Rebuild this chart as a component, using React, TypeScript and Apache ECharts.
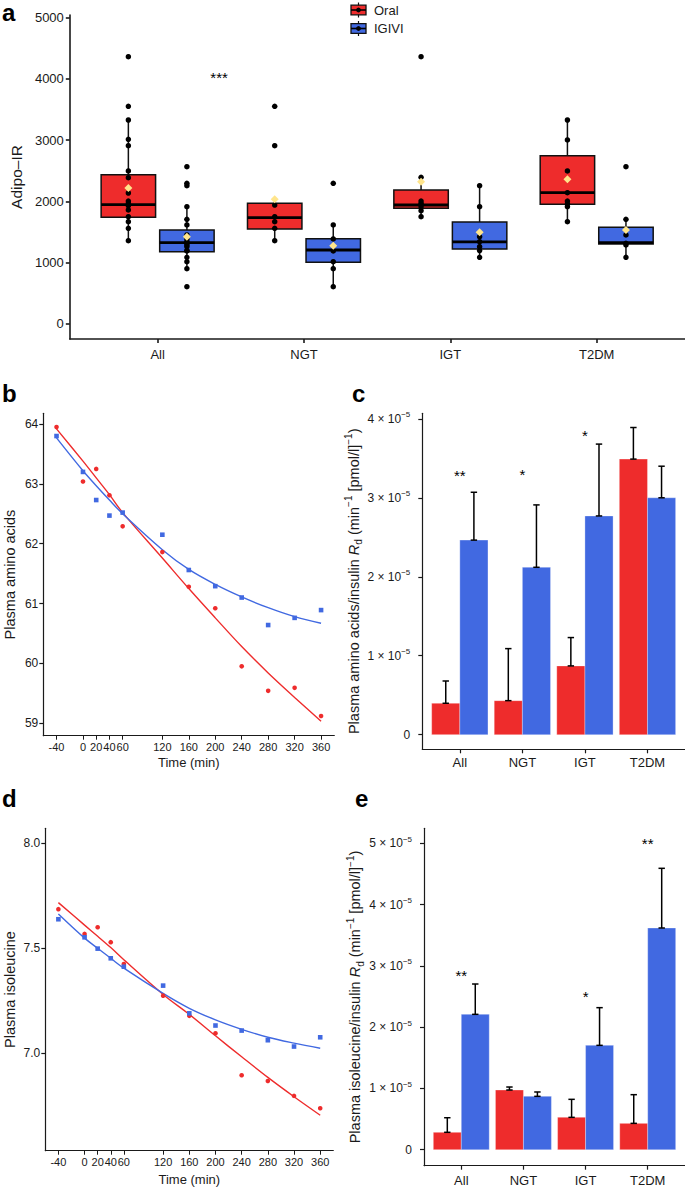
import React, { useEffect, useRef } from 'react';
import * as echarts from 'echarts';

// ---------- Data ----------
const groups = ['All', 'NGT', 'IGT', 'T2DM'];
const legendNames = ['Oral', 'IGIVI'];

// Panel a: Adipo-IR box stats [lower whisker, Q1, median, Q3, upper whisker]
const oralBox = [
  [1359, 1740, 1946, 2436, 3328],
  [1359, 1550, 1735, 1969, 1969],
  [1751, 1887, 1941, 2186, 2393],
  [1669, 1952, 2142, 2746, 3328],
];
const igiviBox = [
  [902, 1180, 1327, 1533, 1914],
  [608, 1006, 1207, 1392, 1615],
  [1088, 1223, 1338, 1664, 2256],
  [1088, 1305, 1327, 1577, 1708],
];
const oralMean = [2219, 2034, 2321, 2360];
const igiviMean = [1425, 1278, 1495, 1533];
const oralPoints = [
  [4360, 3551, 3328, 3013, 2909, 2496, 2387, 2137, 2006, 1969, 1930, 1860, 1751, 1669, 1561, 1359],
  [3551, 2909, 1941, 1751, 1669, 1561, 1359],
  [4360, 2393, 2006, 1969, 1914, 1849, 1751],
  [3328, 3002, 2496, 2142, 2006, 1958, 1914, 1669],
];
const igiviPoints = [
  [2566, 2295, 2256, 1914, 1708, 1615, 1452, 1387, 1343, 1316, 1289, 1262, 1197, 1191, 1088, 1016, 902, 608],
  [2295, 1615, 1387, 1191, 1016, 902, 608],
  [2256, 1914, 1425, 1343, 1262, 1197, 1088],
  [2566, 1708, 1452, 1316, 1289, 1088],
];
const sigAx = [1.42];
const sigAy = [4090];
const sigAText = ['***'];

// Panels b, d: time courses
const times = [-40, 0, 20, 40, 60, 120, 160, 200, 240, 280, 320, 360];
const aaOral = [63.95, 63.04, 63.25, 62.81, 62.29, 61.86, 61.28, 60.92, 59.95, 59.54, 59.59, 59.12];
const aaIgivi = [63.8, 63.2, 62.73, 62.47, 62.52, 62.15, 61.56, 61.29, 61.1, 60.64, 60.76, 60.89];
const aaOralFit = [63.92, 63.38, 63.1, 62.82, 62.52, 61.76, 61.25, 60.76, 60.28, 59.84, 59.43, 59.03];
const aaIgiviFit = [63.77, 63.22, 62.97, 62.73, 62.5, 61.9, 61.57, 61.32, 61.11, 60.93, 60.78, 60.67];
const ileOral = [7.686, 7.568, 7.6, 7.529, 7.425, 7.274, 7.178, 7.095, 6.895, 6.868, 6.797, 6.738];
const ileIgivi = [7.638, 7.552, 7.498, 7.452, 7.412, 7.322, 7.19, 7.132, 7.108, 7.062, 7.032, 7.076];
const ileOralFit = [7.717, 7.61, 7.557, 7.503, 7.445, 7.28, 7.185, 7.083, 6.983, 6.885, 6.793, 6.705];
const ileIgiviFit = [7.663, 7.548, 7.5, 7.452, 7.405, 7.285, 7.214, 7.159, 7.114, 7.076, 7.048, 7.024];

// Panel c: amino acids / insulin Rd (mean, upper error)
const cOral = [0.398e-5, 0.431e-5, 0.871e-5, 3.49e-5];
const cOralUp = [0.68e-5, 1.09e-5, 1.23e-5, 3.89e-5];
const cIgivi = [2.464e-5, 2.12e-5, 2.77e-5, 3.0e-5];
const cIgiviUp = [3.07e-5, 2.91e-5, 3.68e-5, 3.4e-5];
const cStarX = [1, 2, 3];
const cStarY = [3.34e-5, 3.35e-5, 3.84e-5];
const cStarText = ['**', '*', '*'];

// Panel e: isoleucine / insulin Rd
const eOral = [0.284e-5, 0.974e-5, 0.528e-5, 0.43e-5];
const eOralUp = [0.522e-5, 1.023e-5, 0.822e-5, 0.898e-5];
const eIgivi = [2.209e-5, 0.871e-5, 1.703e-5, 3.618e-5];
const eIgiviUp = [2.704e-5, 0.942e-5, 2.318e-5, 4.592e-5];
const eStarX = [1, 3, 4];
const eStarY = [2.916e-5, 2.568e-5, 5.065e-5];
const eStarText = ['**', '*', '**'];

const ticksA = [0, 1000, 2000, 3000, 4000, 5000];
const ticksB = [59, 60, 61, 62, 63, 64];
const ticksC = [0, 1e-5, 2e-5, 3e-5, 4e-5];
const ticksD = [7.0, 7.5, 8.0];
const ticksE = [0, 1e-5, 2e-5, 3e-5, 4e-5, 5e-5];
const catTicks = [1, 2, 3, 4];

// ---------- Styling ----------
const FONT = "'Liberation Sans', Arial, Helvetica, sans-serif";
const RED = '#EE2C2C';
const BLUE = '#4169E1';
const INK = '#1a1a1a';

function xCat(grid: number, margin: number, width = 1.2) {
  return {
    type: 'value', gridIndex: grid, min: 0.4, max: 4.6,
    splitLine: { show: false },
    axisLine: { show: true, onZero: false, lineStyle: { color: INK, width } },
    axisTick: { show: true, customValues: catTicks, length: 4, lineStyle: { color: INK, width } },
    axisLabel: {
      customValues: catTicks, margin, fontSize: 13, color: INK, fontFamily: FONT,
      formatter: (v: number) => groups[Math.round(v) - 1] ?? '',
    },
  };
}
function xTime(grid: number, nameGap: number) {
  return {
    type: 'value', gridIndex: grid, min: -60, max: 380,
    splitLine: { show: false },
    axisLine: { show: true, onZero: false, lineStyle: { color: INK, width: 1.2 } },
    axisTick: { show: true, customValues: times, length: 4, lineStyle: { color: INK } },
    axisLabel: { customValues: times, margin: 6, fontSize: 11, color: INK, fontFamily: FONT },
    name: 'Time (min)', nameLocation: 'middle', nameGap,
    nameTextStyle: { fontSize: 13, color: INK, fontFamily: FONT },
  };
}
const sciRich = {
  n: { fontSize: 12, color: INK, fontFamily: FONT, lineHeight: 16 },
  s: { fontSize: 8, color: INK, fontFamily: FONT, verticalAlign: 'top', lineHeight: 9 },
};
const sciFmt = (v: number) => (Math.abs(v) < 1e-12 ? '{n|0}' : `{n|${Math.round(v * 1e5)} \u00d7 10}{s|\u22125}`);
const titleRich = {
  n: { fontSize: 14.5, color: INK, fontFamily: FONT, lineHeight: 20 },
  i: { fontSize: 14.5, color: INK, fontFamily: FONT, fontStyle: 'italic', lineHeight: 20 },
  sub: { fontSize: 10, color: INK, fontFamily: FONT, verticalAlign: 'bottom', lineHeight: 11 },
  sup: { fontSize: 10, color: INK, fontFamily: FONT, verticalAlign: 'top', lineHeight: 10 },
};
const rdTitle = (what: string) =>
  `{n|Plasma ${what}/insulin }{i|R}{sub|d}{n| (min}{sup|\u22121}{n| [pmol/l]}{sup|\u22121}{n|)}`;

function yVal(grid: number, min: number, max: number, ticks: number[], name: string, nameGap: number, fontSize: number, margin: number, fmt?: any, rich?: boolean, titleSize = 14.5, lw = 1.2) {
  return {
    type: 'value', gridIndex: grid, min, max,
    splitLine: { show: false },
    axisLine: { show: true, onZero: false, lineStyle: { color: INK, width: lw } },
    axisTick: { show: true, customValues: ticks, length: 4, lineStyle: { color: INK, width: lw } },
    axisLabel: {
      customValues: ticks, margin, fontSize, color: INK, fontFamily: FONT,
      formatter: fmt, rich: rich ? sciRich : undefined,
    },
    name, nameLocation: 'middle', nameGap, nameRotate: 90,
    nameTextStyle: rich
      ? { rich: titleRich, fontSize: titleSize, color: INK, fontFamily: FONT }
      : { fontSize: titleSize, color: INK, fontFamily: FONT },
  };
}

function boxRender(color: string) {
  return (params: any, api: any) => {
    const x = api.value(0);
    const lo = api.coord([x, api.value(1)]);
    const q1 = api.coord([x, api.value(2)]);
    const md = api.coord([x, api.value(3)]);
    const q3 = api.coord([x, api.value(4)]);
    const hi = api.coord([x, api.value(5)]);
    const l = api.coord([x - 0.186, 0])[0];
    const r = api.coord([x + 0.186, 0])[0];
    const ls = { stroke: '#111', lineWidth: 1.5 };
    return {
      type: 'group',
      children: [
        { type: 'line', shape: { x1: lo[0], y1: lo[1], x2: q1[0], y2: q1[1] }, style: ls },
        { type: 'line', shape: { x1: q3[0], y1: q3[1], x2: hi[0], y2: hi[1] }, style: ls },
        { type: 'rect', shape: { x: l, y: q3[1], width: r - l, height: q1[1] - q3[1] }, style: { fill: color, stroke: '#111', lineWidth: 1.5 } },
        { type: 'line', shape: { x1: l, y1: md[1], x2: r, y2: md[1] }, style: { stroke: '#000', lineWidth: 2.8 } },
      ],
    };
  };
}

function barRender(color: string, offset: number) {
  return (params: any, api: any) => {
    const x = api.value(0) + offset;
    const v = api.value(1);
    const up = api.value(2);
    const a = api.coord([x - 0.225, v]);
    const b = api.coord([x + 0.225, 0]);
    const c = api.coord([x, v]);
    const t = api.coord([x, up]);
    const es = { stroke: '#000', lineWidth: 1.5 };
    return {
      type: 'group',
      children: [
        { type: 'rect', shape: { x: a[0], y: a[1], width: b[0] - a[0], height: b[1] - a[1] }, style: { fill: color, stroke: 'rgba(255,255,255,0.5)', lineWidth: 0.6 } },
        { type: 'line', shape: { x1: c[0], y1: c[1], x2: t[0], y2: t[1] }, style: es },
        { type: 'line', shape: { x1: c[0] - 3.2, y1: c[1], x2: c[0] + 3.2, y2: c[1] }, style: es },
        { type: 'line', shape: { x1: t[0] - 3.2, y1: t[1], x2: t[0] + 3.2, y2: t[1] }, style: es },
      ],
    };
  };
}

function starSeries(xi: number, xs: number[], ys: number[], texts: string[], fontSize: number) {
  return {
    type: 'custom', name: 'sig', xAxisIndex: xi, yAxisIndex: xi, clip: false, z: 10,
    data: xs.map((x, i) => [x, ys[i]]),
    encode: { x: 0, y: 1 },
    renderItem: (params: any, api: any) => {
      const p = api.coord([api.value(0), api.value(1)]);
      return {
        type: 'text', x: p[0], y: p[1] + fontSize * 0.28,
        style: { text: texts[params.dataIndex], fontSize, fontFamily: FONT, fill: '#000', align: 'center', verticalAlign: 'middle' },
      };
    },
  };
}

function fitLine(name: string, xi: number, ys: number[], color: string) {
  return {
    type: 'line', name, xAxisIndex: xi, yAxisIndex: xi, showSymbol: false, symbol: 'none',
    smooth: 0.35, lineStyle: { color, width: 1.4 }, itemStyle: { color }, z: 3,
    data: times.map((t, i) => [t, ys[i]]),
  };
}
function pts(name: string, xi: number, ys: number[], color: string, symbol: string) {
  return {
    type: 'scatter', name, xAxisIndex: xi, yAxisIndex: xi, symbol, symbolSize: 4.6,
    itemStyle: { color, opacity: 1 }, z: 4,
    data: times.map((t, i) => [t, ys[i]]),
  };
}

function legendGlyph(cy: number, color: string, label: string) {
  return {
    type: 'group',
    children: [
      { type: 'line', shape: { x1: 358.5, y1: cy - 7.5, x2: 358.5, y2: cy + 7.5 }, style: { stroke: '#111', lineWidth: 1.2 } },
      { type: 'rect', shape: { x: 351, y: cy - 4.8, width: 15, height: 9.6 }, style: { fill: color, stroke: '#111', lineWidth: 1.3 } },
      { type: 'line', shape: { x1: 351, y1: cy, x2: 366, y2: cy }, style: { stroke: '#000', lineWidth: 1.6 } },
      { type: 'circle', shape: { cx: 358.5, cy, r: 2.4 }, style: { fill: '#000' } },
      { type: 'text', x: 374, y: cy, style: { text: label, fontSize: 13, fontFamily: FONT, fill: INK, verticalAlign: 'middle', align: 'left' } },
    ],
  };
}

export default function App() {
  const ref = useRef<HTMLDivElement>(null);
  useEffect(() => {
    if (!ref.current) return;
    const chart = echarts.init(ref.current, null, { renderer: 'svg' });
    const letter = (t: string, left: number, top: number) => ({
      type: 'text', left, top, style: { text: t, font: `bold 24px ${FONT}`, fill: '#000' },
    });
    const option: any = {
      animation: false,
      backgroundColor: '#fff',
      textStyle: { fontFamily: FONT },
      grid: [
        { left: 62.9, top: 15, width: 621.6, height: 324 },
        { left: 43.3, top: 413.3, width: 291, height: 322.4 },
        { left: 422.3, top: 413.3, width: 262.7, height: 336 },
        { left: 45.3, top: 828.3, width: 288, height: 322.4 },
        { left: 424, top: 828.3, width: 261, height: 337.4 },
      ],
      xAxis: [xCat(0, 9, 1.6), xTime(1, 20), xCat(2, 7), xTime(3, 22), xCat(4, 8)],
      yAxis: [
        yVal(0, -245, 5041, ticksA, 'Adipo\u2013IR', 42, 13, 6, (v: number) => String(v), false, 15.5, 1.6),
        yVal(1, 58.79, 64.18, ticksB, 'Plasma amino acids', 26, 12, 5, (v: number) => String(v)),
        yVal(2, -0.185e-5, 4.07e-5, ticksC, rdTitle('amino acids'), 53, 12, 12, sciFmt, true),
        yVal(3, 6.536, 8.071, ticksD, 'Plasma isoleucine', 28, 12, 5, (v: number) => v.toFixed(1)),
        yVal(4, -0.261e-5, 5.245e-5, ticksE, rdTitle('isoleucine'), 55, 12, 12, sciFmt, true),
      ],
      graphic: [
        letter('a', 2, 0),
        letter('b', 2, 381),
        letter('c', 352, 381),
        letter('d', 2, 786),
        letter('e', 355, 786),
        legendGlyph(10, RED, legendNames[0]),
        legendGlyph(28.5, BLUE, legendNames[1]),
      ],
      series: [
        // Panel a
        {
          type: 'custom', name: legendNames[0], xAxisIndex: 0, yAxisIndex: 0, z: 2, clip: false,
          itemStyle: { color: RED },
          data: groups.map((g, i) => [i + 1 - 0.2, ...oralBox[i]]),
          encode: { x: 0, y: [1, 2, 3, 4, 5] },
          renderItem: boxRender(RED),
        },
        {
          type: 'custom', name: legendNames[1], xAxisIndex: 0, yAxisIndex: 0, z: 2, clip: false,
          itemStyle: { color: BLUE },
          data: groups.map((g, i) => [i + 1 + 0.2, ...igiviBox[i]]),
          encode: { x: 0, y: [1, 2, 3, 4, 5] },
          renderItem: boxRender(BLUE),
        },
        {
          type: 'scatter', name: 'Oral points', xAxisIndex: 0, yAxisIndex: 0, z: 3, symbolSize: 5.5,
          itemStyle: { color: '#000', opacity: 1 },
          data: oralPoints.flatMap((arr, i) => arr.map((v) => [i + 1 - 0.2, v])),
        },
        {
          type: 'scatter', name: 'IGIVI points', xAxisIndex: 0, yAxisIndex: 0, z: 3, symbolSize: 5.5,
          itemStyle: { color: '#000', opacity: 1 },
          data: igiviPoints.flatMap((arr, i) => arr.map((v) => [i + 1 + 0.2, v])),
        },
        {
          type: 'scatter', name: 'Mean', xAxisIndex: 0, yAxisIndex: 0, z: 4, symbol: 'diamond', symbolSize: 8,
          itemStyle: { color: '#FFE58C', opacity: 1 },
          data: [
            ...oralMean.map((v, i) => [i + 1 - 0.2, v]),
            ...igiviMean.map((v, i) => [i + 1 + 0.2, v]),
          ],
        },
        starSeries(0, sigAx, sigAy, sigAText, 15),
        // Panel b
        fitLine('Oral fit b', 1, aaOralFit, RED),
        fitLine('IGIVI fit b', 1, aaIgiviFit, BLUE),
        pts('Oral b', 1, aaOral, RED, 'circle'),
        pts('IGIVI b', 1, aaIgivi, BLUE, 'rect'),
        // Panel c
        {
          type: 'custom', name: 'Oral c', xAxisIndex: 2, yAxisIndex: 2, z: 2, clip: false,
          data: groups.map((g, i) => [i + 1, cOral[i], cOralUp[i]]),
          encode: { x: 0, y: [1, 2] },
          renderItem: barRender(RED, -0.225),
        },
        {
          type: 'custom', name: 'IGIVI c', xAxisIndex: 2, yAxisIndex: 2, z: 2, clip: false,
          data: groups.map((g, i) => [i + 1, cIgivi[i], cIgiviUp[i]]),
          encode: { x: 0, y: [1, 2] },
          renderItem: barRender(BLUE, 0.225),
        },
        starSeries(2, cStarX, cStarY, cStarText, 15),
        // Panel d
        fitLine('Oral fit d', 3, ileOralFit, RED),
        fitLine('IGIVI fit d', 3, ileIgiviFit, BLUE),
        pts('Oral d', 3, ileOral, RED, 'circle'),
        pts('IGIVI d', 3, ileIgivi, BLUE, 'rect'),
        // Panel e
        {
          type: 'custom', name: 'Oral e', xAxisIndex: 4, yAxisIndex: 4, z: 2, clip: false,
          data: groups.map((g, i) => [i + 1, eOral[i], eOralUp[i]]),
          encode: { x: 0, y: [1, 2] },
          renderItem: barRender(RED, -0.225),
        },
        {
          type: 'custom', name: 'IGIVI e', xAxisIndex: 4, yAxisIndex: 4, z: 2, clip: false,
          data: groups.map((g, i) => [i + 1, eIgivi[i], eIgiviUp[i]]),
          encode: { x: 0, y: [1, 2] },
          renderItem: barRender(BLUE, 0.225),
        },
        starSeries(4, eStarX, eStarY, eStarText, 15),
      ],
    };
    chart.setOption(option);
    return () => chart.dispose();
  }, []);
  return <div ref={ref} style={{ position: 'absolute', left: 0, top: 0, width: 685, height: 1188, background: '#fff' }} />;
}
